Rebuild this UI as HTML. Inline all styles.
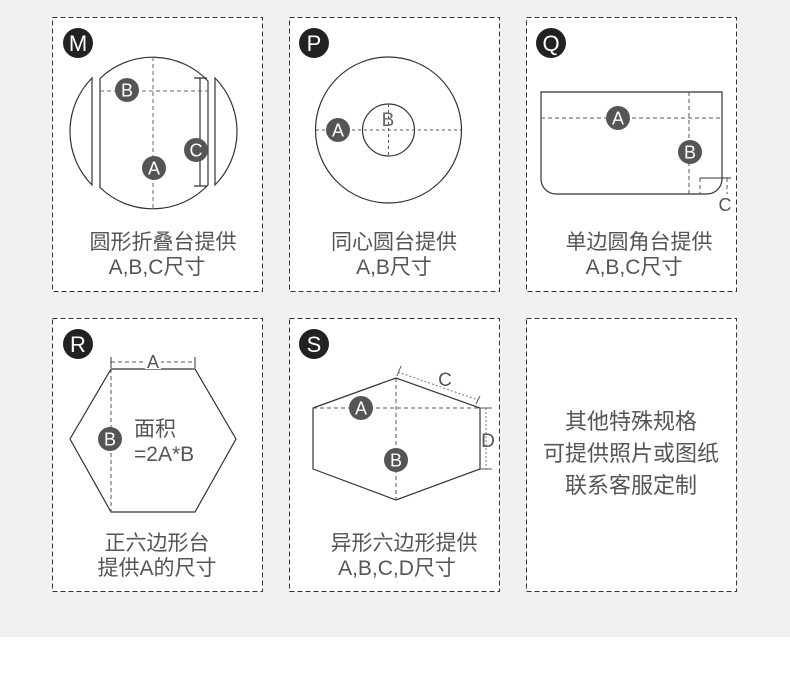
<!DOCTYPE html>
<html><head><meta charset="utf-8"><style>
html,body{margin:0;padding:0}
body{width:790px;height:700px;background:#fff;position:relative;overflow:hidden;font-family:"Liberation Sans","Noto Sans CJK SC",sans-serif}
.bg{position:absolute;left:0;top:0;width:790px;height:637px;background:#f1f1f1}
svg{position:absolute;left:0;top:0}
</style></head><body>
<div class="bg"></div>
<svg width="790" height="700" viewBox="0 0 790 700" font-family="Liberation Sans, Noto Sans CJK SC, sans-serif">
<g fill="#fff" stroke="#333" stroke-dasharray="5,3" stroke-width="1">
<rect x="52.5" y="17.5" width="210" height="274"/>
<rect x="289.5" y="17.5" width="210" height="274"/>
<rect x="526.5" y="17.5" width="210" height="274"/>
<rect x="52.5" y="318.5" width="210" height="273"/>
<rect x="289.5" y="318.5" width="210" height="273"/>
<rect x="526.5" y="318.5" width="210" height="273"/>
</g>
<g fill="#222">
<circle cx="78" cy="43" r="15"/><circle cx="314" cy="43" r="15"/><circle cx="551" cy="43" r="15"/>
<circle cx="78" cy="344" r="15"/><circle cx="314" cy="344" r="15"/>
</g>
<g fill="#fff" font-size="22" text-anchor="middle">
<text x="78" y="51">M</text><text x="314" y="51">P</text><text x="551" y="51">Q</text>
<text x="78" y="352">R</text><text x="314" y="352">S</text>
</g>
<!-- M -->
<g fill="none" stroke="#333" stroke-width="1.2">
<path d="M100 78.5 L100 187.5 A76 76 0 0 0 208 185 L208 81 A76 76 0 0 0 100 78.5 Z"/>
<path d="M92 78 A76 76 0 0 0 92 185 Z"/>
<path d="M215 78 A76 76 0 0 1 215 185 Z"/>
<path d="M200 78 L200 186 M194 78 L207 78 M194 186 L207 186"/>
</g>
<g stroke="#666" stroke-dasharray="4,3" fill="none"><path d="M153 57 L153 209 M100 91 L208 91"/></g>
<!-- P -->
<g fill="none" stroke="#333" stroke-width="1.2"><circle cx="388.5" cy="130" r="73"/><circle cx="388.5" cy="130" r="26"/></g>
<g stroke="#555" stroke-dasharray="3,3" fill="none"><path d="M316 130 L461 130 M388.5 104 L388.5 156"/></g>
<text x="388" y="126" font-size="19" fill="#666" text-anchor="middle">B</text>
<!-- Q -->
<path d="M541 92 L722 92 L722 179 A15 15 0 0 1 707 194 L556 194 A15 15 0 0 1 541 179 Z" fill="none" stroke="#333" stroke-width="1.2"/>
<g stroke="#555" stroke-dasharray="4,3" fill="none"><path d="M541 118 L722 118 M689 92 L689 194 M700 178 L700 194 M727 178 L727 194"/></g>
<path d="M700 178 L731 178" stroke="#333"/>
<text x="725" y="211" font-size="18" fill="#555" text-anchor="middle">C</text>
<!-- R -->
<path d="M111 369 L195 369 L236 439 L195 512 L111 512 L70 439 Z" fill="none" stroke="#333" stroke-width="1.2"/>
<g stroke="#555" stroke-dasharray="4,3" fill="none"><path d="M111 362 L195 362 M111 369 L111 512"/></g>
<path d="M111 357 L111 368 M195 357 L195 368" stroke="#333"/>
<rect x="145" y="353" width="16" height="16" fill="#fff"/>
<text x="153" y="368" font-size="18" fill="#555" text-anchor="middle">A</text>
<text x="134" y="436" font-size="21" fill="#555">面积</text>
<text x="134" y="461" font-size="21" fill="#555">=2A*B</text>
<!-- S -->
<path d="M313 408 L396 378 L480 408 L480 469 L396 500 L313 469 Z" fill="none" stroke="#333" stroke-width="1.2"/>
<g stroke="#555" stroke-dasharray="4,3" fill="none"><path d="M313 408 L480 408 M396 378 L396 500"/></g>
<path d="M398 372 L478 400 M486 408 L486 469" stroke="#777" stroke-dasharray="2,2" fill="none"/>
<path d="M397 376 L401 366 M476 404 L480 396 M480 408 L492 408 M480 469 L492 469" stroke="#555"/>
<text x="445" y="386" font-size="19" fill="#555" text-anchor="middle">C</text>
<text x="488" y="447" font-size="19" fill="#555" text-anchor="middle">D</text>
<!-- badges -->
<g fill="#555">
<circle cx="127" cy="90" r="12"/><circle cx="154" cy="168" r="12"/><circle cx="196" cy="150" r="12"/>
<circle cx="338" cy="130" r="12"/>
<circle cx="618" cy="118" r="12"/><circle cx="690" cy="152" r="12"/>
<circle cx="110" cy="439" r="12"/>
<circle cx="361" cy="408" r="12"/><circle cx="396" cy="460" r="12"/>
</g>
<g fill="#fff" font-size="18" text-anchor="middle">
<text x="127" y="96.5">B</text><text x="154" y="174.5">A</text><text x="196" y="156.5">C</text>
<text x="338" y="136.5">A</text>
<text x="618" y="124.5">A</text><text x="690" y="158.5">B</text>
<text x="110" y="445.5">B</text>
<text x="361" y="414.5">A</text><text x="396" y="466.5">B</text>
</g>
<!-- captions -->
<g fill="#555" font-size="21" text-anchor="middle">
<text x="163" y="249">圆形折叠台提供</text><text x="157" y="274">A,B,C尺寸</text>
<text x="394" y="249">同心圆台提供</text><text x="394" y="274">A,B尺寸</text>
<text x="639" y="249">单边圆角台提供</text><text x="634" y="274">A,B,C尺寸</text>
<text x="157" y="550">正六边形台</text><text x="157" y="575">提供A的尺寸</text>
<text x="404" y="550">异形六边形提供</text><text x="397" y="575">A,B,C,D尺寸</text>
</g>
<g fill="#555" font-size="22" text-anchor="middle">
<text x="631" y="429">其他特殊规格</text><text x="631" y="461">可提供照片或图纸</text><text x="631" y="493">联系客服定制</text>
</g>
</svg>
</body></html>
